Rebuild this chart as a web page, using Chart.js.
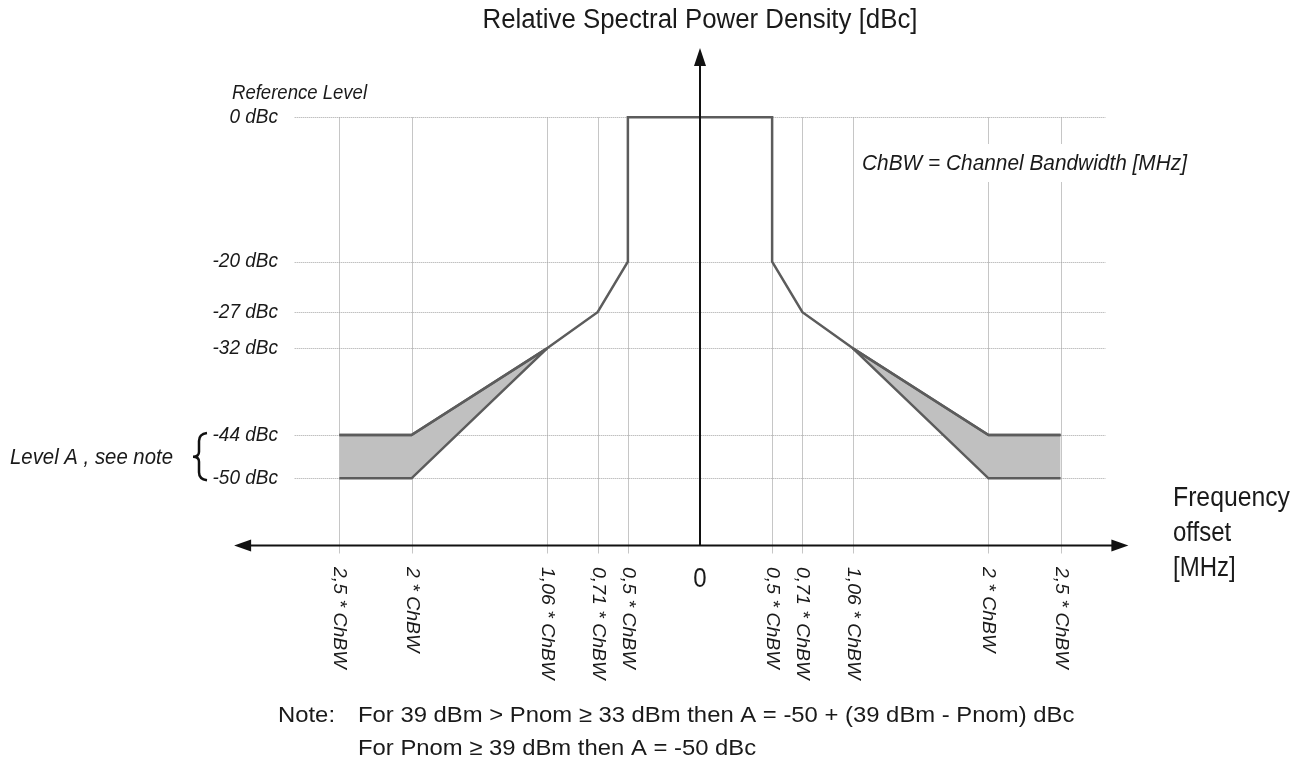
<!DOCTYPE html>
<html>
<head>
<meta charset="utf-8">
<script src="https://cdn.jsdelivr.net/npm/chart.js@4.4.1/dist/chart.umd.min.js"></script>
<style>
  html, body { margin: 0; padding: 0; background: #fff; }
  canvas { display: block; }
</style>
</head>
<body>
<canvas id="mask" width="1306" height="767"></canvas>
<script>
// offsets in units of ChBW, levels in dBc
var xTicks = [-2.5, -2, -1.06, -0.71, -0.5, 0, 0.5, 0.71, 1.06, 2, 2.5];
var xTickLabels = ['2,5 * ChBW', '2 * ChBW', '1,06 * ChBW', '0,71 * ChBW', '0,5 * ChBW', '0',
    '0,5 * ChBW', '0,71 * ChBW', '1,06 * ChBW', '2 * ChBW', '2,5 * ChBW'];
var yTicks = [0, -20, -27, -32, -44, -50];
var yTickLabels = ['0 dBc', '-20 dBc', '-27 dBc', '-32 dBc', '-44 dBc', '-50 dBc'];

var maskX = [-2.5, -2, -1.06, -0.71, -0.5, -0.5, 0.5, 0.5, 0.71, 1.06, 2, 2.5];
var maskY = [-44, -44, -32, -27, -20, 0, 0, -20, -27, -32, -44, -44];

var levelALeftX = [-2.5, -2, -1.06];
var levelARightX = [1.06, 2, 2.5];
var levelALeftUpper = [-44, -44, -32];
var levelALeftLower = [-50, -50, -32];
var levelARightUpper = [-32, -44, -44];
var levelARightLower = [-32, -50, -50];

// axis extents (value space)
var axisY = -59.3;
var axisXLeft = -3.23, axisXRight = 2.97, axisYTop = 9.6;

function pts(xs, ys) {
    return xs.map(function (x, i) { return { x: x, y: ys[i] }; });
}

var lineColor = '#5c5c5c';
var fillColor = '#c0c0c0';
var textColor = '#1a1a1a';
var FONT = '"Liberation Sans", Arial, sans-serif';

// draw text; o.w stretches the text horizontally to a given width
function txt(ctx, s, x, y, o) {
    ctx.save();
    ctx.font = o.font;
    var sx = o.sx || 1;
    if (o.w) sx = o.w / ctx.measureText(s).width;
    ctx.translate(x, y);
    ctx.scale(sx, o.sy || 1);
    if (o.rot) ctx.rotate(o.rot);
    ctx.fillStyle = o.color || textColor;
    ctx.textAlign = o.align || 'left';
    ctx.textBaseline = 'middle';
    ctx.fillText(s, 0, 0);
    ctx.restore();
}

var gridPlugin = {
    id: 'maskGrid',
    beforeDatasetsDraw: function (chart) {
        var ctx = chart.ctx;
        var xs = chart.scales.x, ys = chart.scales.y;
        ctx.save();
        // vertical grid
        ctx.strokeStyle = '#c6c6c6';
        ctx.lineWidth = 1;
        xTicks.forEach(function (v) {
            if (v === 0) return;
            var px = Math.round(xs.getPixelForValue(v)) + 0.5;
            ctx.beginPath();
            ctx.moveTo(px, ys.getPixelForValue(0));
            ctx.lineTo(px, ys.getPixelForValue(axisY) + 8);
            ctx.stroke();
        });
        // horizontal dotted grid
        ctx.strokeStyle = '#a4a4a4';
        ctx.setLineDash([1, 1]);
        yTicks.forEach(function (v) {
            var py = Math.round(ys.getPixelForValue(v)) + 0.5;
            ctx.beginPath();
            ctx.moveTo(xs.getPixelForValue(-2.81), py);
            ctx.lineTo(xs.getPixelForValue(2.81), py);
            ctx.stroke();
        });
        ctx.setLineDash([]);

        // note inside plot, gridlines broken behind it
        ctx.fillStyle = '#fff';
        ctx.fillRect(858, 144, 334, 38);
        txt(ctx, 'ChBW = Channel Bandwidth [MHz]', 862, 164, {
            font: 'italic 20px ' + FONT, sy: 1.12, w: 325
        });
        ctx.restore();
    },
    afterDatasetsDraw: function (chart) {
        var ctx = chart.ctx;
        var xs = chart.scales.x, ys = chart.scales.y;
        var x0 = xs.getPixelForValue(0);
        var yAx = ys.getPixelForValue(axisY);
        ctx.save();
        ctx.strokeStyle = '#111';
        ctx.fillStyle = '#111';
        ctx.lineWidth = 2;
        // y axis
        var yTop = ys.getPixelForValue(axisYTop);
        ctx.beginPath();
        ctx.moveTo(x0, yAx);
        ctx.lineTo(x0, yTop + 14);
        ctx.stroke();
        ctx.beginPath();
        ctx.moveTo(x0, yTop);
        ctx.lineTo(x0 - 6, yTop + 18);
        ctx.lineTo(x0 + 6, yTop + 18);
        ctx.closePath();
        ctx.fill();
        // x axis
        var xl = xs.getPixelForValue(axisXLeft), xr = xs.getPixelForValue(axisXRight);
        ctx.beginPath();
        ctx.moveTo(xl + 14, yAx);
        ctx.lineTo(xr - 14, yAx);
        ctx.stroke();
        ctx.beginPath();
        ctx.moveTo(xl, yAx);
        ctx.lineTo(xl + 17, yAx - 6);
        ctx.lineTo(xl + 17, yAx + 6);
        ctx.closePath();
        ctx.fill();
        ctx.beginPath();
        ctx.moveTo(xr, yAx);
        ctx.lineTo(xr - 17, yAx - 6);
        ctx.lineTo(xr - 17, yAx + 6);
        ctx.closePath();
        ctx.fill();

        // y tick labels
        var lf = 'italic 19px ' + FONT;
        yTicks.forEach(function (v, i) {
            txt(ctx, yTickLabels[i], 278, ys.getPixelForValue(v), { font: lf, align: 'right', sy: 1.08 });
        });
        txt(ctx, 'Reference Level', 232, ys.getPixelForValue(0) - 24, { font: 'italic 18px ' + FONT, sy: 1.08, w: 135 });

        // Level A brace
        var ya = ys.getPixelForValue(-44), yb = ys.getPixelForValue(-50);
        var ym = (ya + yb) / 2;
        ctx.lineWidth = 2.5;
        ctx.beginPath();
        ctx.moveTo(207, ya - 2);
        ctx.quadraticCurveTo(199, ya - 1, 199, ya + 6);
        ctx.lineTo(199, ym - 5);
        ctx.quadraticCurveTo(199, ym, 193, ym);
        ctx.quadraticCurveTo(199, ym, 199, ym + 5);
        ctx.lineTo(199, yb - 6);
        ctx.quadraticCurveTo(199, yb + 1, 207, yb + 2);
        ctx.stroke();
        txt(ctx, 'Level A , see note', 10, ym + 1, { font: 'italic 20px ' + FONT, sy: 1.08, w: 163 });

        // x tick labels
        xTicks.forEach(function (v, i) {
            var px = xs.getPixelForValue(v);
            if (v === 0) {
                txt(ctx, xTickLabels[i], px, 579, { font: '24px ' + FONT, align: 'center', sy: 1.15 });
            } else {
                txt(ctx, xTickLabels[i], px, 567, { font: 'italic 18px ' + FONT, sy: 1.08, rot: Math.PI / 2 });
            }
        });

        // titles
        var tf = '24px ' + FONT;
        txt(ctx, 'Relative Spectral Power Density [dBc]', x0, 20, { font: tf, align: 'center', sy: 1.15, w: 435 });
        txt(ctx, 'Frequency', 1173, 498, { font: tf, sy: 1.15, w: 117 });
        txt(ctx, 'offset', 1173, 533, { font: tf, sy: 1.15 });
        txt(ctx, '[MHz]', 1173, 568, { font: tf, sy: 1.15 });

        var nf = '22.5px ' + FONT;
        txt(ctx, 'Note:', 278, 716, { font: nf, sx: 1.06 });
        txt(ctx, 'For 39 dBm > Pnom \u2265 33 dBm then A = -50 + (39 dBm - Pnom) dBc', 358, 716, { font: nf, sx: 1.06 });
        txt(ctx, 'For Pnom \u2265 39 dBm then A = -50 dBc', 358, 749, { font: nf, sx: 1.06 });
        ctx.restore();
    }
};

var ctx = document.getElementById('mask').getContext('2d');
new Chart(ctx, {
    type: 'scatter',
    data: {
        datasets: [
            { data: pts(maskX, maskY), showLine: true, borderColor: lineColor, borderWidth: 2.5, pointRadius: 0, fill: false },
            { data: pts(levelALeftX, levelALeftUpper), showLine: true, borderColor: lineColor, borderWidth: 2.5, pointRadius: 0, fill: false },
            { data: pts(levelALeftX, levelALeftLower), showLine: true, borderColor: lineColor, borderWidth: 2.5, pointRadius: 0,
              fill: 1, backgroundColor: fillColor },
            { data: pts(levelARightX, levelARightUpper), showLine: true, borderColor: lineColor, borderWidth: 2.5, pointRadius: 0, fill: false },
            { data: pts(levelARightX, levelARightLower), showLine: true, borderColor: lineColor, borderWidth: 2.5, pointRadius: 0,
              fill: 3, backgroundColor: fillColor }
        ]
    },
    options: {
        responsive: false,
        animation: false,
        layout: { padding: { left: 224, right: 130, top: 45, bottom: 202 } },
        plugins: { legend: { display: false }, tooltip: { enabled: false } },
        scales: {
            x: { type: 'linear', min: -3.3, max: 3.3, display: false },
            y: { type: 'linear', min: -62, max: 10, display: false }
        }
    },
    plugins: [gridPlugin]
});
</script>
</body>
</html>
